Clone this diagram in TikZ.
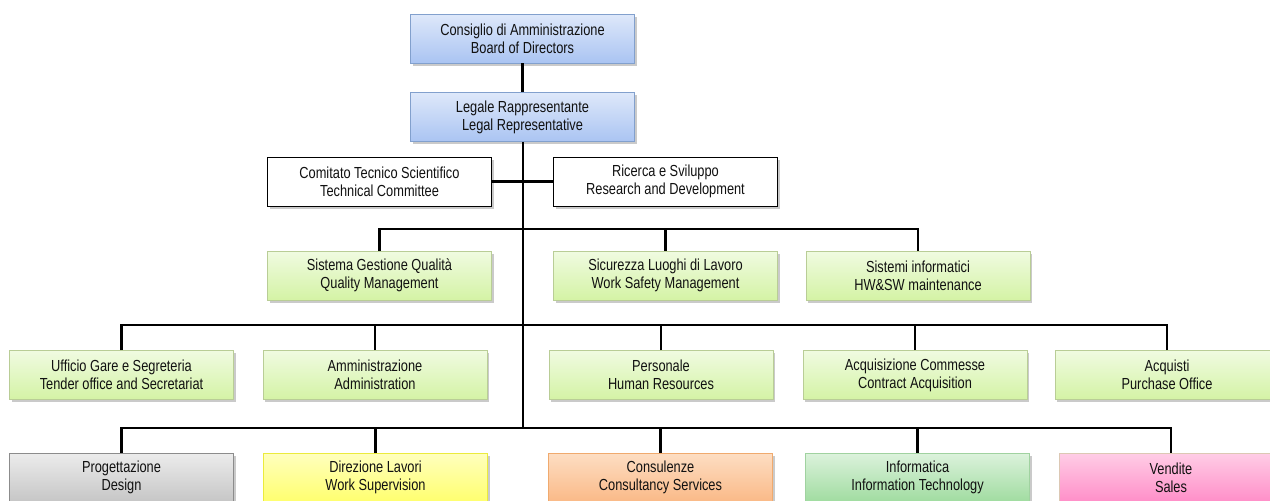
\documentclass[tikz,border=0pt]{standalone}
\usepackage{fontspec}
\setmainfont{Liberation Sans}[FakeStretch=0.8]
\usetikzlibrary{shadows}
\definecolor{txt}{HTML}{111111}
\tikzset{
  box/.style={rectangle, minimum width=224pt, minimum height=49pt, inner sep=2pt,
    align=center, text=txt, line width=0.9pt,
    font=\fontsize{16}{18}\selectfont,
    drop shadow={shadow xshift=2pt, shadow yshift=-2.5pt, opacity=0.35, fill=black!60}},
  bluebox/.style={box, draw={rgb,255:red,130;green,160;blue,205}, top color={rgb,255:red,222;green,232;blue,250}, bottom color={rgb,255:red,170;green,196;blue,242}},
  whitebox/.style={box, draw=black, fill=white, drop shadow={opacity=0}},
  greenbox/.style={box, draw={rgb,255:red,185;green,205;blue,150}, top color={rgb,255:red,240;green,251;blue,225}, bottom color={rgb,255:red,212;green,243;blue,165}},
  graybox/.style={box, draw=gray!90, top color=gray!15, bottom color=gray!45},
  yellowbox/.style={box, draw={rgb,255:red,235;green,235;blue,60}, top color={rgb,255:red,255;green,255;blue,190}, bottom color={rgb,255:red,255;green,255;blue,110}},
  orangebox/.style={box, draw={rgb,255:red,240;green,170;blue,110}, top color={rgb,255:red,253;green,222;blue,195}, bottom color={rgb,255:red,250;green,185;blue,135}},
  itbox/.style={box, draw={rgb,255:red,160;green,210;blue,160}, top color={rgb,255:red,220;green,242;blue,220}, bottom color={rgb,255:red,160;green,220;blue,160}},
  pinkbox/.style={box, draw={rgb,255:red,220;green,200;blue,180}, top color={rgb,255:red,255;green,205;blue,230}, bottom color={rgb,255:red,255;green,142;blue,200}},
  conn/.style={draw=black, line width=2.4pt}
}
\begin{document}
\begin{tikzpicture}[x=1pt, y=-1pt]
\useasboundingbox (0,0) rectangle (1270,501);
\clip (0,0) rectangle (1270,501);
% nodes
\node[bluebox] (board) at (522.5,38.5) {Consiglio di Amministrazione\\Board of Directors};
\node[bluebox] (legal) at (522.5,117) {Legale Rappresentante\\Legal Representative};
\node[whitebox] (comm) at (379.5,181.5) {Comitato Tecnico Scientifico\\Technical Committee};
\node[whitebox] (rnd) at (665.5,181.5) {Ricerca e Sviluppo\\Research and Development};
\node[greenbox] (qual) at (379.5,275.5) {Sistema Gestione Qualità\\Quality Management};
\node[greenbox] (safe) at (665.5,275.5) {Sicurezza Luoghi di Lavoro\\Work Safety Management};
\node[greenbox] (sist) at (918,275.5) {Sistemi informatici\\HW\&SW maintenance};
\node[greenbox] (uff) at (121.5,375) {Ufficio Gare e Segreteria\\Tender office and Secretariat};
\node[greenbox] (amm) at (375,375) {Amministrazione\\Administration};
\node[greenbox] (pers) at (661,375) {Personale\\Human Resources};
\node[greenbox] (acqc) at (915,375) {Acquisizione Commesse\\Contract Acquisition};
\node[greenbox] (acq) at (1167,375) {Acquisti\\Purchase Office};
\node[graybox] (prog) at (121.5,477.5) {Progettazione\\Design};
\node[yellowbox] (dir) at (375.5,477.5) {Direzione Lavori\\Work Supervision};
\node[orangebox] (cons) at (660.5,477.5) {Consulenze\\Consultancy Services};
\node[itbox] (info) at (917.5,477.5) {Informatica\\Information Technology};
\node[pinkbox] (vend) at (1171,477.5) {Vendite\\Sales};
% trunk coordinates
\coordinate (t3) at (523,229);
\coordinate (t4) at (523,325);
\coordinate (t5) at (523,428);
% connectors
\draw[conn] (board.south) -- (legal.north);
\draw[conn] (legal.south -| t5) -- (t5);
\draw[conn] (comm.east) -- (rnd.west);
\draw[conn] (qual.north) |- (t3);
\draw[conn] (safe.north) |- (t3);
\draw[conn] (sist.north) |- (t3);
\draw[conn] (uff.north) |- (t4);
\draw[conn] (amm.north) |- (t4);
\draw[conn] (pers.north) |- (t4);
\draw[conn] (acqc.north) |- (t4);
\draw[conn] (acq.north) |- (t4);
\draw[conn] (prog.north) |- (t5);
\draw[conn] (dir.north) |- (t5);
\draw[conn] (cons.north) |- (t5);
\draw[conn] (info.north) |- (t5);
\draw[conn] (vend.north) |- (t5);
\end{tikzpicture}
\end{document}
